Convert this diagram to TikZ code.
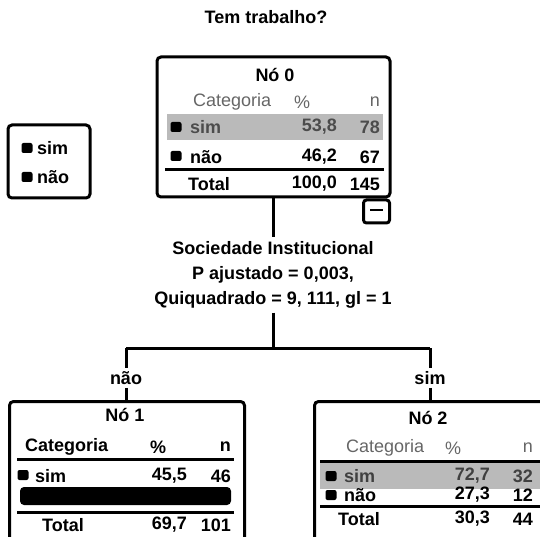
\documentclass[tikz,border=0pt]{standalone}
\usepackage{fontspec}
\setmainfont{Liberation Sans}
\begin{document}
\begin{tikzpicture}[x=1pt,y=-1pt,
  txt/.style={font=\bfseries\fontsize{18}{21}\selectfont, inner sep=0pt},
  lighttxt/.style={font=\fontsize{18}{21}\selectfont, inner sep=0pt, text=black!60},
  hltxt/.style={txt, text=black!70},
  box/.style={draw, line width=3pt, rounded corners=4pt, inner sep=0pt},
  conn/.style={line width=3pt},
  rule/.style={line width=3pt},
  marker/.style={fill=black, rounded corners=2pt, minimum width=11pt, minimum height=10pt, inner sep=0pt},
  hlrow/.style={fill=black!27, draw=none},
]
\useasboundingbox (0,0) rectangle (540,537);
\clip (0,0) rectangle (540,537);

% title
\node[txt] (title) at (266,17) {Tem trabalho?};

% legend
\node[box, minimum width=82pt, minimum height=73pt] (legend) at (49,161.5) {};
\node[marker] (lgm1) at (27,148) {};
\node[txt, anchor=west] (lgt1) at (37,148) {sim};
\node[marker] (lgm2) at (27,177) {};
\node[txt, anchor=west] (lgt2) at (37,177) {não};

% node 0
\node[box, minimum width=233pt, minimum height=140pt] (n0) at (273.5,127) {};
\node[txt] (n0h) at (275,75) {Nó 0};
\node[lighttxt, anchor=west] (n0c) at (193,102) {Categoria};
\node[lighttxt] (n0p) at (302,102) {\%};
\node[lighttxt, anchor=east] (n0n) at (380,102) {n};
\fill[hlrow] (167,114) rectangle (383,140);
\node[marker] (n0m1) at (176,127) {};
\node[hltxt, anchor=west] (n0s) at (190,127) {sim};
\node[hltxt, anchor=east] (n0sp) at (337,127) {53,8};
\node[hltxt, anchor=east] (n0sn) at (380,127) {78};
\node[marker] (n0m2) at (176,156) {};
\node[txt, anchor=west] (n0a) at (190,157) {não};
\node[txt, anchor=east] (n0ap) at (337,157) {46,2};
\node[txt, anchor=east] (n0an) at (380,157) {67};
\draw[rule] (165,170) -- (384,170);
\node[txt, anchor=west] (n0t) at (188,184) {Total};
\node[txt, anchor=east] (n0tp) at (337,184) {100,0};
\node[txt, anchor=east] (n0tn) at (380,184) {145};
\node[box, minimum width=26pt, minimum height=23pt, rounded corners=3pt] (collapse) at (376.5,211.5) {};
\draw[line width=2.5pt] (370,210) -- (383,210);

% split
\node[txt, align=center, inner sep=4pt] (split) at (273,275)
  {Sociedade Institucional\\[4pt]P ajustado = 0,003,\\[4pt]Quiquadrado = 9, 111, gl = 1};
\draw[conn] (n0.south -| split.north) -- (split.north);
\coordinate (junc) at (273,348);
\coordinate (jl) at (126,348);
\coordinate (jr) at (430,348);
\draw[conn] (split.south) -- (junc);
\draw[conn] (jl) -- (jr);

\node[txt, inner sep=3pt] (lblL) at (126,378) {não};
\node[txt, inner sep=3pt] (lblR) at (430,378) {sim};
\draw[conn] (jl) -- (lblL.north);
\draw[conn] (jr) -- (lblR.north);

% node 1
\node[box, minimum width=235pt, minimum height=170pt, anchor=north west] (n1) at (8,400) {};
\node[txt] (n1h) at (125,415) {Nó 1};
\node[txt, anchor=west] (n1c) at (25,447) {Categoria};
\node[txt] (n1p) at (158,447) {\%};
\node[txt, anchor=east] (n1n) at (231,447) {n};
\draw[rule] (17,459) -- (234,459);
\node[marker] (n1m1) at (23,475) {};
\node[txt, anchor=west] (n1s) at (35,476) {sim};
\node[txt, anchor=east] (n1sp) at (187,476) {45,5};
\node[txt, anchor=east] (n1sn) at (231,476) {46};
\fill[rounded corners=4pt] (20,487) rectangle (231,505);
\draw[rule] (17,512) -- (234,512);
\node[txt, anchor=west] (n1t) at (42,525) {Total};
\node[txt, anchor=east] (n1tp) at (187,525) {69,7};
\node[txt, anchor=east] (n1tn) at (231,525) {101};
\draw[conn] (lblL.south) -- (lblL.south |- n1.north);

% node 2
\node[box, minimum width=240pt, minimum height=170pt, anchor=north west] (n2) at (313,400) {};
\node[txt] (n2h) at (428,418) {Nó 2};
\node[lighttxt, anchor=west] (n2c) at (346,448) {Categoria};
\node[lighttxt] (n2p) at (453,448) {\%};
\node[lighttxt, anchor=east] (n2n) at (533,448) {n};
\draw[rule] (320,461) -- (540,461);
\fill[hlrow] (320,463) rectangle (540,489);
\node[marker] (n2m1) at (331,476) {};
\node[hltxt, text=black!75, anchor=west] (n2s) at (344,476) {sim};
\node[hltxt, text=black!75, anchor=east] (n2sp) at (490,476) {72,7};
\node[hltxt, text=black!75, anchor=east] (n2sn) at (533,476) {32};
\node[marker] (n2m2) at (331,495) {};
\node[txt, anchor=west] (n2a) at (344,495) {não};
\node[txt, anchor=east] (n2ap) at (490,495) {27,3};
\node[txt, anchor=east] (n2an) at (533,495) {12};
\draw[rule] (320,506) -- (540,506);
\node[txt, anchor=west] (n2t) at (338,519) {Total};
\node[txt, anchor=east] (n2tp) at (490,519) {30,3};
\node[txt, anchor=east] (n2tn) at (533,519) {44};
\draw[conn] (lblR.south) -- (lblR.south |- n2.north);
\end{tikzpicture}
\end{document}
